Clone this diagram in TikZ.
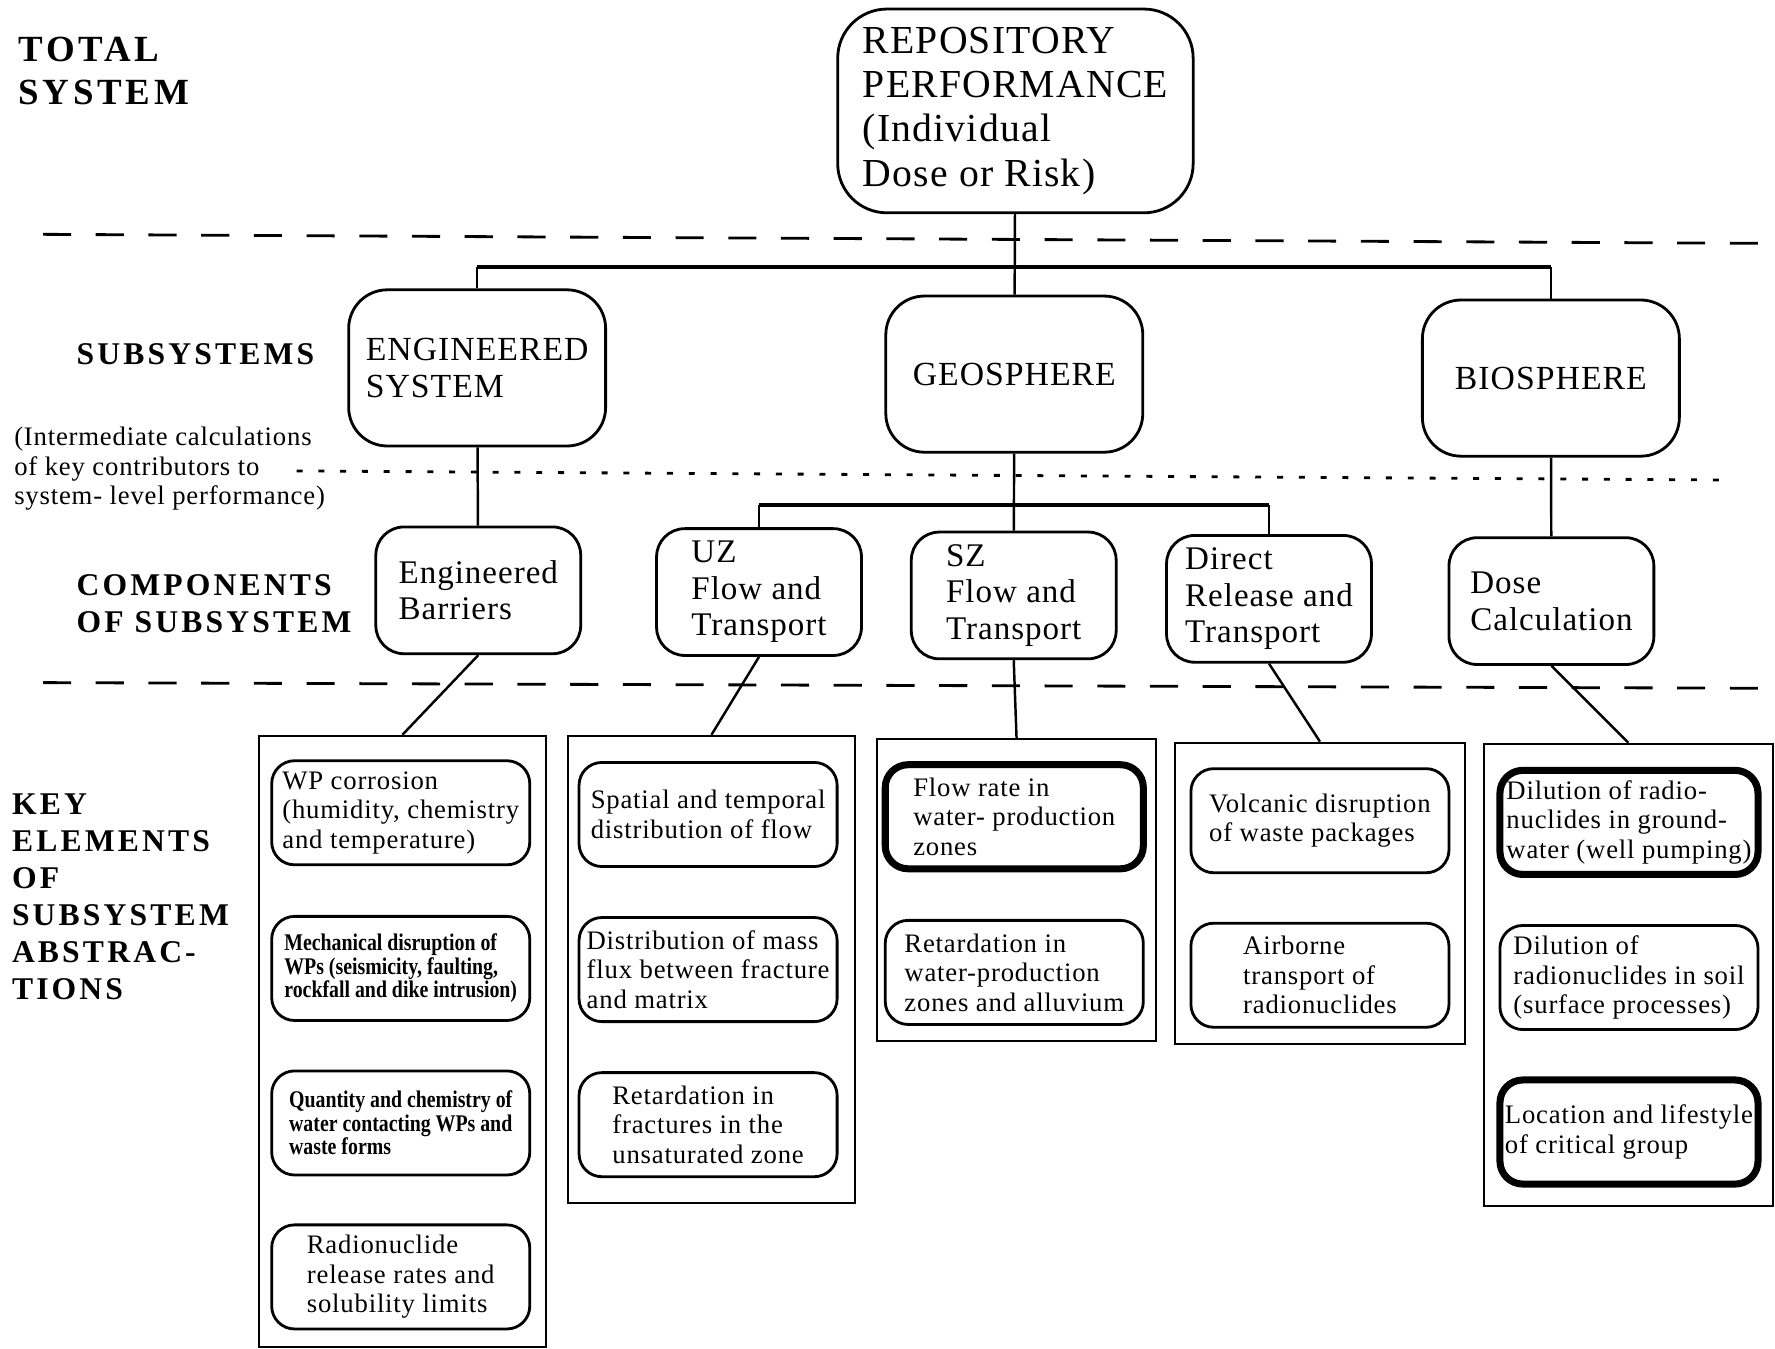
\documentclass[tikz,border=0pt]{standalone}
\usepackage{fontspec}
\setmainfont{Liberation Serif}[LetterSpace=3]
\newfontfamily\headfont[LetterSpace=10]{Liberation Serif}
\newfontfamily\narrowfont[FakeStretch=0.83]{Liberation Serif}
\usepackage{tikz}
\tikzset{rbox/.style={draw, line width=0.8pt, align=left, inner sep=0pt}}
\tikzset{topbox/.style={rbox, rounded corners=14pt, minimum width=3.555cm,
  minimum height=2.038cm, font=\fontsize{11.3}{12.6}\selectfont}}
\tikzset{subbox/.style={rbox, rounded corners=11pt, minimum width=2.57cm,
  minimum height=1.562cm, font=\fontsize{9.6}{10.4}\selectfont}}
\tikzset{compbox/.style={rbox, rounded corners=8pt, minimum width=2.049cm,
  minimum height=1.268cm, font=\fontsize{9.4}{10.4}\selectfont}}
\tikzset{keybox/.style={rbox, rounded corners=6.5pt, minimum width=2.581cm,
  minimum height=1.041cm, font=\fontsize{7.6}{8.4}\selectfont}}
\tikzset{hotbox/.style={keybox, line width=2pt}}
\tikzset{smallkey/.style={keybox, font=\narrowfont\bfseries\fontsize{6.8}{6.7}\selectfont}}
\tikzset{column/.style={draw, line width=0.6pt, inner sep=0pt}}
\tikzset{head/.style={anchor=west, inner sep=0pt, align=left,
  font=\headfont\bfseries\fontsize{9}{10.5}\selectfont}}
\tikzset{link/.style={line width=0.7pt}}
\tikzset{bar/.style={line width=1.1pt}}
\tikzset{level/.style={line width=0.8pt, dash pattern=on 8pt off 7pt}}
\tikzset{sublevel/.style={line width=0.8pt, dash pattern=on 1.7pt off 4.5pt}}

\begin{document}
\begin{tikzpicture}[x=0.01132cm, y=-0.01132cm]
      \useasboundingbox (0, 0) rectangle (1568, 1191);
      \node [head, font=\headfont\bfseries\fontsize{10.5}{12.2}\selectfont] (lt) at (16, 63) {TOTAL\\SYSTEM};
      \node [head] (ls) at (67, 313) {SUBSYSTEMS};
      \node [anchor=west, inner sep=0pt, align=left, font=\fontsize{7.6}{8.5}\selectfont] (li) at (12, 414)
        {(Intermediate calculations\\of key contributors to\\system- level performance)};
      \node [head] (lc) at (67, 533) {COMPONENTS\\OF SUBSYSTEM};
      \node [head] (lk) at (10, 792) {KEY\\ELEMENTS\\OF\\SUBSYSTEM\\ABSTRAC-\\TIONS};
      \draw [level] (38, 207) -- (1560, 215);
      \draw [sublevel] (262, 416) -- (1520, 424);
      \draw [level] (38, 603) -- (1560, 608);
      \node [topbox] (top) at (897, 98) {REPOSITORY\\PERFORMANCE\\(Individual\\Dose or Risk)};
      \node [subbox] (eng) at (421.5, 325) {ENGINEERED\\SYSTEM};
      \node [subbox] (geo) at (896, 330.5) {GEOSPHERE};
      \node [subbox] (bio) at (1370, 334) {BIOSPHERE};
      \node [compbox] (eb) at (422.5, 521.5) {Engineered\\Barriers};
      \node [compbox] (uz) at (670.5, 523) {UZ\\Flow and\\Transport};
      \node [compbox] (sz) at (895.5, 526) {SZ\\Flow and\\Transport};
      \node [compbox] (dr) at (1121, 529) {Direct\\Release and\\Transport};
      \node [compbox] (dc) at (1370.5, 531) {Dose\\Calculation};
      \coordinate (tbar) at (0, 236);
      \coordinate (gbar) at (0, 446);
      \draw [link] (top) -- (geo);
      \draw [bar] (eng.north |- tbar) -- (bio.north |- tbar);
      \draw [link] (eng.north |- tbar) -- (eng.north);
      \draw [link] (bio.north |- tbar) -- (bio.north);
      \draw [link] (eng) -- (eb);
      \draw [link] (geo) -- (sz);
      \draw [link] (bio) -- (dc);
      \draw [bar] (uz.north |- gbar) -- (dr.north |- gbar);
      \draw [link] (uz.north |- gbar) -- (uz.north);
      \draw [link] (dr.north |- gbar) -- (dr.north);
      \node [column, minimum width=2.864cm, minimum height=6.113cm] (c1) at (355.5, 920) {};
      \node [column, minimum width=2.864cm, minimum height=4.675cm] (c2) at (628.5, 856.5) {};
      \node [column, minimum width=2.785cm, minimum height=3.022cm] (c3) at (898, 786.5) {};
      \node [column, minimum width=2.898cm, minimum height=3.011cm] (c4) at (1166, 789) {};
      \node [column, minimum width=2.887cm, minimum height=4.619cm] (c5) at (1438.5, 861) {};
      \draw [link] (eb.south) -- (c1.north);
      \draw [link] (uz.south) -- (c2.north);
      \draw [link] (sz.south) -- (c3.north);
      \draw [link] (dr.south) -- (c4.north);
      \draw [link] (dc.south) -- (c5.north);
      \node [keybox] (k11) at (354, 718) {WP corrosion\\(humidity, chemistry\\and temperature)};
      \node [smallkey] (k12) at (354, 855.5) {Mechanical disruption of\\WPs (seismicity, faulting,\\rockfall and dike intrusion)};
      \node [smallkey] (k13) at (354, 992) {Quantity and chemistry of\\water contacting WPs and\\waste forms};
      \node [keybox] (k14) at (354, 1128) {Radionuclide\\release rates and\\solubility limits};
      \node [keybox] (k21) at (625.5, 719.5) {Spatial and temporal\\distribution of flow};
      \node [keybox] (k22) at (625.5, 856.5) {Distribution of mass\\flux between fracture\\and matrix};
      \node [keybox] (k23) at (625.5, 993.5) {Retardation in\\fractures in the\\unsaturated zone};
      \node [hotbox] (k31) at (896, 721.5) {Flow rate in\\water- production\\zones};
      \node [keybox] (k32) at (896, 859) {Retardation in\\water-production\\zones and alluvium};
      \node [keybox] (k41) at (1166, 725) {Volcanic disruption\\of waste packages};
      \node [keybox] (k42) at (1166, 861.5) {Airborne\\transport of\\radionuclides};
      \node [hotbox] (k51) at (1439, 726.5) {Dilution of radio-\\nuclides in ground-\\water (well pumping)};
      \node [keybox] (k52) at (1439, 863.5) {Dilution of\\radionuclides in soil\\(surface processes)};
      \node [hotbox] (k53) at (1439, 1000) {Location and lifestyle\\of critical group};
    \end{tikzpicture}
\end{document}
